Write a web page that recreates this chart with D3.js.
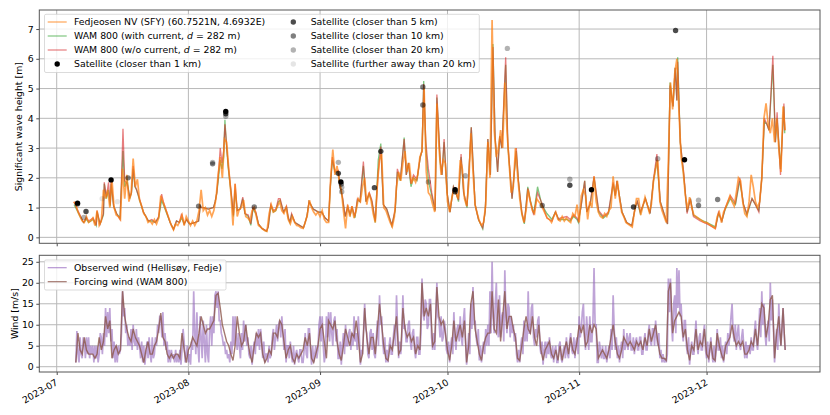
<!DOCTYPE html>
<html>
<head>
<meta charset="utf-8">
<script src="https://cdn.jsdelivr.net/npm/d3@7"></script>
<style>
body { margin: 0; background: #fff; }
text { font-family: "DejaVu Sans", sans-serif; fill: #000; }
</style>
</head>
<body>
<div id="vis"></div>
<script>
// days since 2023-07-01 for the model wave series
let waveDays = [
    4.1,4.8,5.5,6.3,7,7.5,8.6,9.3,9.5,10.2,
    11,11.2,11.7,12.2,12.6,12.8,13.4,14.1,14.9,15.2,
    15.6,16,16.6,17.2,17.6,18,18.4,18.8,19.6,20.4,
    21.6,22.4,23.2,24,24.7,25.1,25.9,26.7,27.5,28.2,
    28.9,29.4,30,30.6,31,31.4,32.6,33.4,33.8,34.1,
    34.5,35.7,36.9,37.3,37.7,38.1,38.5,38.9,39.3,39.6,
    40,40.4,41.2,41.6,42,42.5,43.2,43.8,44.3,45.1,
    45.7,46.2,46.9,47.5,48.3,49.4,49.8,50.4,51,51.6,
    52.2,52.6,53.4,54.1,54.5,54.9,55.3,56.1,58.1,58.9,
    59.4,60.4,61.6,62.4,63.2,64,64.4,64.9,65.5,66.3,
    66.7,67.3,67.9,68.5,69.1,69.5,70.2,70.8,71.4,72.2,
    72.8,73.6,74.2,75,75.7,76.3,76.9,77.7,78.9,79.7,
    80.2,80.9,81.8,82.3,82.8,83.4,84,84.8,85.6,86,
    86.4,86.9,87.5,88.3,89.1,89.5,90.3,90.7,91.2,91.9,
    92.6,93.4,94,94.6,95.2,95.8,96.6,97.6,98.5,99.3,
    100.3,100.9,101.5,102.1,102.7,103.2,103.8,104.3,104.8,105.7,
    106.2,107.2,108.2,108.7,109.5,110.1,110.9,111.5,112.3,113.2,
    114.2,115.4,116.6,117.4,118.2,118.5,120.1,120.9,121.7,122.5,
    122.8,123.4,124.3,124.8,125.6,126.5,127.6,128.7,129.9,131,
    131.5,131.9,133.1,134.2,135.4,136.2,136.7,137.4,138.6,139.7,
    140.5,141.3,142.1,143.3,143.8,144.4,145.1,145.6,146,146.2,
    146.8,147.6,148.4,149.2,149.9,151.5,153.1,155.1,155.8,156.6,
    157.4,158.6,159.8,160.8,161.7,162.5,163.7,164.5,165.3,166,
    166.6,167.2,167.7,168.6,169.2,169.6,170.4,171.2,171.4
];

let wamCurrentHs = [
    1.1,.9,.7,.5,.6,.5,.6,.4,.85,.45,
    .75,1.8,1.3,1.6,1.05,1.8,1.05,.8,.65,1.6,
    2.9,1.7,1.9,1.3,1.5,2.3,1.7,1.6,1.2,.85,
    .55,.55,.5,.65,1.25,1.1,.8,.5,.27,.55,
    .5,.65,.45,.6,.5,.45,.5,.55,1.05,1,
    1,.95,1,1.2,1.5,2,2.6,2.3,2.7,3.95,
    3,2.3,1.3,.7,1.6,.9,.95,1.3,.8,.7,
    .4,.95,.8,.45,.3,.2,.35,1.05,.85,.9,
    1.2,1.25,.85,1,.65,.5,.75,.5,.32,.7,
    1.2,.95,.85,.85,.65,.55,1.65,2.6,2.2,2.2,
    1.7,1.3,.7,1,.75,1,.65,1.25,1.2,2.4,
    1.2,1.45,1.2,.5,2.6,3.15,1.1,.95,.4,.9,
    2.2,1.9,3.35,2.1,2.5,1.7,2,1.9,2.7,2.9,
    5.25,3,1.9,1.4,.9,4.7,2.5,2.1,3.2,1.5,
    .85,1.7,1.5,1.2,2.7,1.5,1,3.7,1.1,.6,
    .28,.9,3.3,2.1,6.5,3.4,2.2,3.4,3,5.8,
    3.1,1.3,2.9,1.9,.8,.45,1.7,1.25,.8,1.7,
    1.1,.8,.6,.85,.6,.6,.6,.55,.7,.6,
    .5,1,1.9,.85,1.1,2,.85,.65,.8,1.8,
    1.4,1.9,.85,.5,.4,1,1.2,.8,1.3,.8,
    1.9,2.6,1.2,.65,.45,5.2,4.4,5.7,4.6,6.05,
    3.2,2.1,.85,1.3,.75,.6,.5,.35,.8,.55,
    .95,1.3,1.1,1.9,1.1,.75,1.3,1.1,.9,2,
    3.9,3.8,3.6,5.8,3.2,4,2.3,4.4,3.5
];

let wamNoCurrentHs = [
    1.2,.95,.75,.5,.65,.55,.65,.4,.9,.45,
    .8,1.85,1.35,1.85,1.1,1.9,1.05,.8,.6,1.7,
    3.65,1.9,1.8,1.35,1.5,2.4,1.75,1.6,1.25,.85,
    .55,.6,.5,.7,1.45,1.2,.85,.5,.27,.55,
    .5,.8,.45,.6,.5,.45,.5,.55,1.05,1,
    1,.95,1,1.2,1.5,2.2,3,2.5,2.9,3.8,
    3.1,2.4,1.35,.75,1.8,.9,.95,1.35,.8,.75,
    .45,1,.85,.45,.3,.22,.35,1.1,.9,.95,
    1.3,1.3,.85,1.05,.7,.5,.8,.5,.32,.7,
    1.2,.95,.85,.85,.65,.55,1.7,2.7,2.2,2.25,
    1.7,1.35,.7,1.05,.75,1.05,.7,1.3,1.2,2.55,
    1.2,1.5,1.25,.55,2.2,3.05,1.1,.95,.4,.95,
    2.3,1.95,3.3,2.1,2.5,1.8,2.1,1.95,2.7,2.9,
    5.15,3.2,2.3,1.5,.9,4.8,2.6,2.1,3.3,1.5,
    .85,1.7,1.5,1.25,2.8,1.5,1.05,3.7,1.1,.6,
    .32,.9,3.3,2.1,6.4,3.4,2.2,3.4,3,6.05,
    3.2,1.3,3,1.9,.85,.5,1.65,1.2,.75,1.5,
    1.15,.65,.55,.85,.6,.65,.7,.6,.75,.65,
    .55,1,1.9,.85,1.15,2.05,.9,.7,.85,1.85,
    1.4,1.9,.85,.5,.4,1,1.2,.85,1.3,.8,
    1.95,2.8,1.2,.65,.45,5.1,4.4,5.7,4.6,5.9,
    3.2,2.2,.8,1.3,.7,.55,.45,.3,.85,.55,
    1,1.4,1.15,2,1.1,.8,1.3,1.1,.85,2,
    4,3.8,3.6,6.1,3.2,4.2,2.1,4.5,3.6
];

// buoy, one value every 12 h from day 4
let sfyStart = 4;
let sfyHs = [
    1.2,1.1,.85,.7,.55,.5,.7,.5,.55,.65,.4,.9,.4,.55,1.6,1.3,1.6,1,1.95,1,
    .75,.7,.6,2.3,1.3,2.1,1.2,1.45,2.65,1.7,1.95,1.25,1.05,.8,.7,.5,.55,.45,.6,.45,
    .65,1.4,1.2,1,.8,.6,.4,.25,.45,.4,.55,.75,.4,.7,.55,.4,.55,.4,.55,.9,
    1.6,.9,1,.75,.9,.7,.9,1.3,2.1,2.7,2,3.3,3.2,2.3,1.5,.4,1.8,.7,.95,1,
    1.25,.7,.65,.55,.9,1,.7,.4,.35,.28,.22,.2,.8,1.1,.85,.9,1.05,1.2,.9,.8,
    1,.6,.45,.7,.5,.4,.38,.32,.3,.5,.75,1.25,1,.85,.75,.85,.7,.9,.6,.5,
    .5,2,2.95,2.1,2.4,1.9,1.6,.9,.3,1.1,.7,1.05,.65,.9,1.3,1.2,1.7,2,1.1,1.5,
    1.25,.8,.5,1.8,2.6,2.8,1,.9,.7,.5,.35,.7,1.7,2.2,1.9,2.5,2.9,2.2,2.5,1.8,
    2,1.85,2.1,2.7,2.9,5,2.2,1.5,1.4,1.1,.85,4.5,3,2.1,2.6,2.5,1.2,.85,1.3,1.6,
    1.5,1.3,2.6,2.3,1.3,1.05,1.8,3.5,2.2,1.1,.8,.55,.4,.5,1.1,3.2,2,7.3,3.6,2.7,
    3,3.6,3,5.2,3.6,2.5,1.5,1.7,3,2.1,1.3,.8,.5,.9,1.6,1.2,.9,.8,1.3,1.2,
    1.1,.95,.8,.65,.6,.5,.7,.85,.6,.55,.7,.55,.65,.55,.5,.8,.7,1.1,.5,1.4,
    1.6,1.4,.6,1.2,1,2.05,1.2,.85,.7,.65,.8,.7,.9,1,2.05,1.3,1.9,1.3,.85,.7,
    .5,.45,.4,.35,.85,1.3,1.3,.75,1.05,1.35,1.1,.85,1.1,1.9,2.3,2.6,1.2,.9,.7,.5,
    2.6,5.2,4.3,5.5,6,4.2,2.7,2.2,1.4,.95,1.35,1,.75,.7,.65,.6,.55,.5,.5,.45,
    .4,.35,.3,.7,.85,.5,.85,1,1.2,1.4,1.2,1.05,1.5,2,1.9,1.2,.8,.7,1.2,2.1,
    1.7,1.2,1,1.2,2,4,4.5,3.8,3.5,4,3.2,4,3,2.2,4.4,3.6
];

// satellite passes, satClass indexes satNames
let satDays = [4.9,4.9,6.4,6.9,10.7,12.8,14.3,16.8,33.4,36.7,36.7,39.8,39.8,39.8,46.5,
    66.3,66.3,66.9,67,67.1,67.1,74.8,76.3,86.2,86.2,87.5,93.8,93.8,96.2,106.1,114.3,
    120.8,120.8,125.9,135.8,141.5,145.7,147.8,151.1,151.1,155.6];
let satHs = [1.15,1.12,.67,.87,1.3,1.93,1.2,2,1.05,2.52,2.47,4.23,4.15,4.07,1.02,
    2.52,2.15,1.86,1.79,1.68,1.53,1.67,2.89,5.05,4.45,1.86,1.53,1.6,2.07,6.35,1.07,
    1.95,1.75,1.6,1.02,2.64,6.95,2.61,1.25,1.07,1.27];
let satClass = [0,2,3,1,4,0,4,2,2,3,2,0,1,3,2,
    3,1,0,2,3,3,1,1,2,2,3,1,0,3,3,2,
    3,1,0,1,3,1,0,3,2,2];
let satNames = ['Satellite (closer than 1 km)', 'Satellite (closer than 5 km)', 'Satellite (closer than 10 km)',
    'Satellite (closer than 20 km)', 'Satellite (further away than 20 km)'];
let satAlpha = [1, 0.7, 0.5, 0.3, 0.1];

// wind from day 4.5: observed every 6 h, forcing every 12 h
let windStart = 4.5;
let observedWind = [
    1,8.5,3,1,7,3,2,7,6,2,7,3,7,2,5,3,5,1,5,2,5,1,3,8,7,3,8,5,14,7,13,8,14,6,9,2,6,1,5,1,
    5,3,4,8,18,12,14,8,10,5,7,5,9,4,10,6,5,9,4,7,5,2,6,1,5,0.5,3,6,2,7,3,1,7,2,3,7,5,10,8,12,
    12,7,13,5,8,4,6,1,4,1,4,2,3,1,4,1,3,1,4,0.5,4,9,6,1,3,5,1,3,0.5,6,4,18,8,3,13,5,1,12,7,2,
    11,6,1,10,3,1,9,12,5,12,8,17,18,14,18,11,11,8,7,5,6,3,4,2,3,1,6,3,12,5,12,7,4,8,5,2,8,4,11,6,
    10,5,7,3,2,5,0.5,4,6,3,8,5,9,4,9,6,2,6,1,3,3,1,5,2,3,7,9,4,7,10,6,10,11,7,12,8,4,9,1,5,
    5,2,6,3,1,5,0.5,3,4,2,1,4,4,1,1,4,8,3,2,9,9,4,0.5,5,1,3,5,2,4,10,12,6,12,5,1,3,12,7,13,6,
    13,8,5,11,12,6,9,2,2,6,0.5,5,8,3,10,5,5,8,9,4,8,5,12,6,8,4,12,7,0.5,4,3,9,15,9,8,3,2,8,9,4,
    8,3,2,7,11,5,17,10,12,6,3,7,1,4,1,5,7,3,3,7,10,5,17,9,2,6,3,7,17,9,10,6,6,10,11,6,4,8,9,4,
    2,7,7,3,3,8,21,13,11,16,15,9,10,16,16,7,4,8,4,12,20,12,11,7,12,6,7,11,9,4,3,6,1,5,7,3,13,7,4,9,
    10,6,12,7,5,11,14,6,0.5,4,8,3,15,9,19,10,11,7,5,9,1.5,5,1,4,6,3,9,5,10,5,18,8,25,12,8,15,20,9,7,17,
    7,12,13,6,23,12,8,15,14,7,12,8,10,6,8,3,1,4,1,5,7,3,11,6,10,6,18,8,8,14,15,7,5,9,7,11,12,5,3,6,
    0.5,4,6,2,6,3,7,3,2,5,1,4,5,1,1,5,6,2,1,4,5,2,7,3,2,6,8,4,3,7,2,6,7,3,12,7,9,13,15,7,
    4,12,8,4,12,6,6,11,23.5,10,10,1,1,6,4,2,5,2,2,5,1,3,5,2,9,4,17,9,4,7,2,5,1,4,6,2,9,4,5,8,
    4,7,8,4,4,7,3,6,7,4,4,7,7,3,3,6,8,4,4,8,10,6,5,9,9,5,11,7,5,8,2,4,1,3,1,2,1,3,21,13,
    21,10,6,15,17,8,23.5,14,23,12,15,9,6,11,11,5,3,7,0.5,4,6,3,3,7,11,5,3,7,8,4,4,8,10,4,2,6,1,4,7,3,
    1,5,1,4,9,4,4,7,2,5,1,4,6,3,8,5,8,12,15,8,6,10,4,8,10,5,4,7,9,5,2,6,2,5,5,3,7,4,4,8,
    11,6,4,8,14,7,18,10,15,8,5,9,11,6,20,11,16,9,1,6,9,4,15,8,5,9,14,8,4
];
let forcingWind = [
    1,8,4,3,7,4,3,3,3,2,3,7,4,6,12,9,11,2,4,5,
    3,4,18,12,9,7,6,9,7,6,5,3,1,4,6,3,3,5,6,9,
    12.8,7,6,3,2,3,2,3,3,2,8,4,1,4,5,7,6,5,8,12,
    10,8,9,9,10,11,17,17.5,14,10,8,6,5,3,1.5,5,12,8,5,6,
    10,6,3,1,5,8,7,8,3,1,2,4,3,8,8,7,11,10,6,2,
    4,5,2,1,3,2,3,4,7,5,8,2,1,3,5,9,10,6,2,11,
    10,9,11,6,3,1.5,5,9,7,5,8,7,11,7,1,3,14,7,3,7,
    7,3,9,15,10,5,2,1.5,5,4,8,12,3,4,14,9,7,8,6,7,
    3,5,4,20,12,14,12,15,5,6,19,12,10,11,8,4,1.5,5,11,6,
    8,10,7,11,1,5,15,18,9,6,3,1.5,5,7,8,8,18,9,8,16,
    6,12,18,9,12,12,9,7,2,1.5,5,9,12,9,8,12,7,5,10,4,
    1.5,4,5,6,3,2,4,1.5,5,1.5,4,6,3,7,4,3,6,10,8,10,
    5,6,10,8,10,9,2,3,4,3,2,4,7,10,6,3,2,4,7,6,
    5,6,5,4,6,5,6,4,7,5,9,6,8,10,6,3,2,2,1.5,18,
    20,8,11,12,13,12,7,9,4,1.5,5,4,9,4,6,5,9,3,2,6,
    2,1.5,8,5,3,1.5,5,6,7,10,7,5,6,5,6,3,3,4,6,5,
    9,5,11,15,14,7,10,16,17,2,8,12,5,14,4
];

let monthTicks = ['2023-07-01', '2023-08-01', '2023-09-01', '2023-10-01', '2023-11-01', '2023-12-01'];
let waveTicks = [0, 1, 2, 3, 4, 5, 6, 7];
let windTicks = [0, 5, 10, 15, 20, 25];

let width = 830, height = 415;
let left = 39.3, right = 820;
let panel1 = { top: 10, bottom: 243.3 };
let panel2 = { top: 255.3, bottom: 372 };
let fontSize = 9.35;

let svg = d3.select('#vis')
    .append('svg')
    .attr('width', width)
    .attr('height', height)
    .style('display', 'block');

let parseDay = d3.utcParse('%Y-%m-%d');
let origin = parseDay('2023-07-01');
let toDate = d => new Date(+origin + d * 864e5);

let x = d3.scaleUtc()
    .domain([toDate(-4.1), toDate(179.7)])
    .range([left, right]);
let yWave = d3.scaleLinear().domain([-0.2, 7.64]).range([panel1.bottom, panel1.top]);
let yWind = d3.scaleLinear().domain([-1.26, 26.55]).range([panel2.bottom, panel2.top]);

let clip = svg.append('defs');
clip.append('clipPath').attr('id', 'clip1').append('rect')
    .attr('x', left).attr('y', panel1.top).attr('width', right - left).attr('height', panel1.bottom - panel1.top);
clip.append('clipPath').attr('id', 'clip2').append('rect')
    .attr('x', left).attr('y', panel2.top).attr('width', right - left).attr('height', panel2.bottom - panel2.top);

let monthDates = monthTicks.map(parseDay);

function drawGrid(yScale, ticks, panel) {
    let g = svg.append('g').attr('stroke', '#b8b8b8').attr('stroke-width', 1);
    g.selectAll('.v').data(monthDates).join('line').attr('class', 'v')
        .attr('x1', d => x(d)).attr('x2', d => x(d))
        .attr('y1', panel.top).attr('y2', panel.bottom);
    g.selectAll('.h').data(ticks).join('line').attr('class', 'h')
        .attr('x1', left).attr('x2', right)
        .attr('y1', d => yScale(d)).attr('y2', d => yScale(d));
}

function drawAxes(yScale, ticks, panel, showLabels) {
    let xAxis = d3.axisBottom(x)
        .tickValues(monthDates)
        .tickSize(3)
        .tickPadding(2)
        .tickFormat(showLabels ? d3.utcFormat('%Y-%m') : '');
    let gx = svg.append('g')
        .attr('transform', 'translate(0,' + panel.bottom + ')')
        .call(xAxis);
    gx.select('.domain').remove();
    gx.selectAll('line').attr('stroke-width', 0.7).attr('stroke', '#000');
    if (showLabels) {
        gx.selectAll('text')
            .attr('font-size', fontSize)
            .attr('text-anchor', 'end')
            .attr('dy', '0.6em')
            .attr('transform', 'translate(-4,3) rotate(-30)');
    }
    let gy = svg.append('g')
        .attr('transform', 'translate(' + left + ',0)')
        .call(d3.axisLeft(yScale).tickValues(ticks).tickSize(3).tickPadding(2.5));
    gy.select('.domain').remove();
    gy.selectAll('line').attr('stroke-width', 0.7).attr('stroke', '#000');
    gy.selectAll('text').attr('font-size', fontSize);
    svg.append('rect')
        .attr('x', left).attr('y', panel.top)
        .attr('width', right - left).attr('height', panel.bottom - panel.top)
        .attr('fill', 'none').attr('stroke', '#555').attr('stroke-width', 1);
}

// top panel
drawGrid(yWave, waveTicks, panel1);

let waveLine = values => d3.line()
    .x((d, i) => x(toDate(waveDays[i])))
    .y(d => yWave(d))(values);
let sfyLine = d3.line()
    .x((d, i) => x(toDate(sfyStart + i * 0.5)))
    .y(d => yWave(d));

let waveGroup = svg.append('g').attr('clip-path', 'url(#clip1)').attr('fill', 'none');
waveGroup.append('path').attr('d', waveLine(wamCurrentHs))
    .attr('stroke', '#2ca02c').attr('stroke-opacity', 0.6).attr('stroke-width', 1.3);
waveGroup.append('path').attr('d', waveLine(wamNoCurrentHs))
    .attr('stroke', '#d62728').attr('stroke-opacity', 0.6).attr('stroke-width', 1.3);
waveGroup.append('path').attr('d', sfyLine(sfyHs))
    .attr('stroke', '#ff7f0e').attr('stroke-opacity', 0.7).attr('stroke-width', 1.7);

svg.append('g').selectAll('circle')
    .data(satDays)
    .join('circle')
    .attr('cx', d => x(toDate(d)))
    .attr('cy', (d, i) => yWave(satHs[i]))
    .attr('r', 2.7)
    .attr('fill', '#000')
    .attr('fill-opacity', (d, i) => satAlpha[satClass[i]]);

drawAxes(yWave, waveTicks, panel1, false);

// bottom panel
drawGrid(yWind, windTicks, panel2);

let windLine = (values, step) => d3.line()
    .x((d, i) => x(toDate(windStart + i * step)))
    .y(d => yWind(d))(values);

let windGroup = svg.append('g').attr('clip-path', 'url(#clip2)').attr('fill', 'none');
windGroup.append('path').attr('d', windLine(observedWind, 0.25))
    .attr('stroke', '#9467bd').attr('stroke-opacity', 0.6).attr('stroke-width', 1.7);
windGroup.append('path').attr('d', windLine(forcingWind, 0.5))
    .attr('stroke', '#8c564b').attr('stroke-opacity', 0.8).attr('stroke-width', 1.4);

drawAxes(yWind, windTicks, panel2, true);

// axis titles
svg.append('text')
    .attr('transform', 'translate(22,' + (panel1.top + panel1.bottom) / 2 + ') rotate(-90)')
    .attr('text-anchor', 'middle').attr('font-size', fontSize)
    .text('Significant wave height [m]');
svg.append('text')
    .attr('transform', 'translate(17.5,' + (panel2.top + panel2.bottom) / 2 + ') rotate(-90)')
    .attr('text-anchor', 'middle').attr('font-size', fontSize)
    .text('Wind [m/s]');

// legends
function legendBox(x0, y0, w, h) {
    svg.append('rect')
        .attr('x', x0).attr('y', y0).attr('width', w).attr('height', h).attr('rx', 1.5)
        .attr('fill', '#fff').attr('fill-opacity', 0.8)
        .attr('stroke', '#ccc').attr('stroke-width', 0.7);
}

function legendLine(y, color, opacity) {
    svg.append('line')
        .attr('x1', 47.7).attr('x2', 66.7).attr('y1', y).attr('y2', y)
        .attr('stroke', color).attr('stroke-opacity', opacity).attr('stroke-width', 1.2);
}

function legendText(tx, y, label) {
    return svg.append('text')
        .attr('x', tx).attr('y', y).attr('dy', '0.35em')
        .attr('font-size', fontSize)
        .text(label);
}

function wamLabel(y, prefix) {
    let t = legendText(74, y, prefix);
    t.append('tspan').attr('font-style', 'italic').text('d');
    t.append('tspan').text(' = 282 m)');
}

legendBox(44.5, 14.3, 434.8, 58.2);
legendLine(22, '#ff7f0e', 0.7);
legendText(74, 22, 'Fedjeosen NV (SFY) (60.7521N, 4.6932E)');
legendLine(36, '#2ca02c', 0.6);
wamLabel(36, 'WAM 800 (with current, ');
legendLine(50, '#d62728', 0.6);
wamLabel(50, 'WAM 800 (w/o current, ');

let satLegend = [
    { cx: 57.2, tx: 74, y: 64, cls: 0 },
    { cx: 293.3, tx: 310.7, y: 22, cls: 1 },
    { cx: 293.3, tx: 310.7, y: 36, cls: 2 },
    { cx: 293.3, tx: 310.7, y: 50, cls: 3 },
    { cx: 293.3, tx: 310.7, y: 64, cls: 4 }
];
satLegend.forEach(d => {
    svg.append('circle')
        .attr('cx', d.cx).attr('cy', d.y).attr('r', 2.7)
        .attr('fill', '#000').attr('fill-opacity', satAlpha[d.cls]);
    legendText(d.tx, d.y, satNames[d.cls]);
});

legendBox(44.5, 260, 181.5, 30);
legendLine(267.7, '#9467bd', 0.7);
legendText(74, 267.7, 'Observed wind (Hellisøy, Fedje)');
legendLine(281.7, '#8c564b', 0.8);
legendText(74, 281.7, 'Forcing wind (WAM 800)');
</script>
</body>
</html>
